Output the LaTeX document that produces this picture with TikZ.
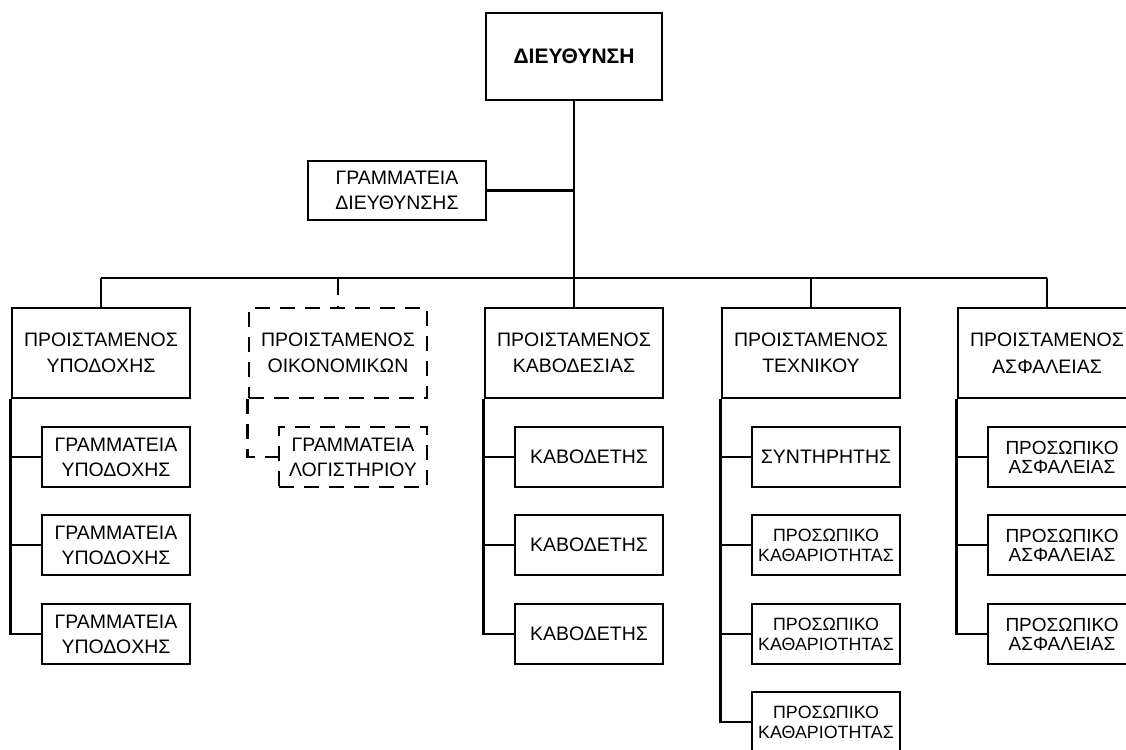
\documentclass[tikz,border=0pt]{standalone}
\usepackage{fontspec}
\setmainfont{Liberation Sans}
\begin{document}
\begin{tikzpicture}[x=1pt,y=-1pt,
  box/.style={draw,line width=2.8pt,rectangle,inner sep=0pt,align=center,font=\fontsize{19.5}{26.5}\selectfont},
  parentbox/.style={box,minimum width=178pt,minimum height=90pt},
  childbox/.style={box,minimum width=148pt,minimum height=60pt,font=\fontsize{19.5}{25}\selectfont},
  tight/.style={font=\fontsize{19}{19}\selectfont},
  small/.style={font=\fontsize{17.8}{20}\selectfont},
  dashbox/.style={dash pattern=on 15pt off 10pt},
  link/.style={line width=2.8pt},
  dashlink/.style={line width=2.8pt,dash pattern=on 17pt off 11pt}]
\clip (0,0) rectangle (1126,749);
\fill[white] (0,0) rectangle (1126,749);

% top
\node[box,minimum width=176pt,minimum height=87pt,font=\fontsize{21}{26}\selectfont\bfseries] (dir) at (574,56.5) {ΔΙΕΥΘΥΝΣΗ};
\node[box,minimum width=178pt,minimum height=59pt,font=\fontsize{19.5}{24.3}\selectfont] (gd) at (397,190.5) {ΓΡΑΜΜΑΤΕΙΑ\\ΔΙΕΥΘΥΝΣΗΣ};
\coordinate (bus) at (574,278);

% second level
\node[parentbox] (p1) at (101,353) {ΠΡΟΙΣΤΑΜΕΝΟΣ\\ΥΠΟΔΟΧΗΣ};
\node[parentbox,dashbox] (p2) at (338,353) {ΠΡΟΙΣΤΑΜΕΝΟΣ\\ΟΙΚΟΝΟΜΙΚΩΝ};
\node[parentbox] (p3) at (574,353) {ΠΡΟΙΣΤΑΜΕΝΟΣ\\ΚΑΒΟΔΕΣΙΑΣ};
\node[parentbox] (p4) at (811,353) {ΠΡΟΙΣΤΑΜΕΝΟΣ\\ΤΕΧΝΙΚΟΥ};
\node[parentbox] (p5) at (1047,353) {ΠΡΟΙΣΤΑΜΕΝΟΣ\\ΑΣΦΑΛΕΙΑΣ};

% children
\node[childbox] (a1) at (116,457) {ΓΡΑΜΜΑΤΕΙΑ\\ΥΠΟΔΟΧΗΣ};
\node[childbox] (a2) at (116,545) {ΓΡΑΜΜΑΤΕΙΑ\\ΥΠΟΔΟΧΗΣ};
\node[childbox] (a3) at (116,634) {ΓΡΑΜΜΑΤΕΙΑ\\ΥΠΟΔΟΧΗΣ};

\node[childbox,dashbox] (b1) at (353,457) {ΓΡΑΜΜΑΤΕΙΑ\\ΛΟΓΙΣΤΗΡΙΟΥ};

\node[childbox] (c1) at (589,457) {ΚΑΒΟΔΕΤΗΣ};
\node[childbox] (c2) at (589,545) {ΚΑΒΟΔΕΤΗΣ};
\node[childbox] (c3) at (589,634) {ΚΑΒΟΔΕΤΗΣ};

\node[childbox] (d1) at (826,457) {ΣΥΝΤΗΡΗΤΗΣ};
\node[childbox,small] (d2) at (826,545) {ΠΡΟΣΩΠΙΚΟ\\ΚΑΘΑΡΙΟΤΗΤΑΣ};
\node[childbox,small] (d3) at (826,634) {ΠΡΟΣΩΠΙΚΟ\\ΚΑΘΑΡΙΟΤΗΤΑΣ};
\node[childbox,small] (d4) at (826,722) {ΠΡΟΣΩΠΙΚΟ\\ΚΑΘΑΡΙΟΤΗΤΑΣ};

\node[childbox,tight] (e1) at (1062,457) {ΠΡΟΣΩΠΙΚΟ\\ΑΣΦΑΛΕΙΑΣ};
\node[childbox,tight] (e2) at (1062,545) {ΠΡΟΣΩΠΙΚΟ\\ΑΣΦΑΛΕΙΑΣ};
\node[childbox,tight] (e3) at (1062,634) {ΠΡΟΣΩΠΙΚΟ\\ΑΣΦΑΛΕΙΑΣ};

% connectors
\draw[link] (dir.south) -- (p3.north);
\draw[link] (gd.east) -- (gd.east -| dir.south);
\draw[link] (p1.north |- bus) -- (p5.north |- bus);
\draw[link] (p1.north |- bus) -- (p1.north);
\draw[dashlink] (p2.north |- bus) -- (p2.north);
\draw[link] (p4.north |- bus) -- (p4.north);
\draw[link] (p5.north |- bus) -- (p5.north);

\foreach \c in {a1,a2,a3} \draw[link] (p1.south west) |- (\c.west);
\draw[dashlink,dash pattern=on 15pt off 10pt] (p2.south west) |- (b1.west);
\foreach \c in {c1,c2,c3} \draw[link] (p3.south west) |- (\c.west);
\foreach \c in {d1,d2,d3,d4} \draw[link] (p4.south west) |- (\c.west);
\foreach \c in {e1,e2,e3} \draw[link] (p5.south west) |- (\c.west);
\end{tikzpicture}
\end{document}
